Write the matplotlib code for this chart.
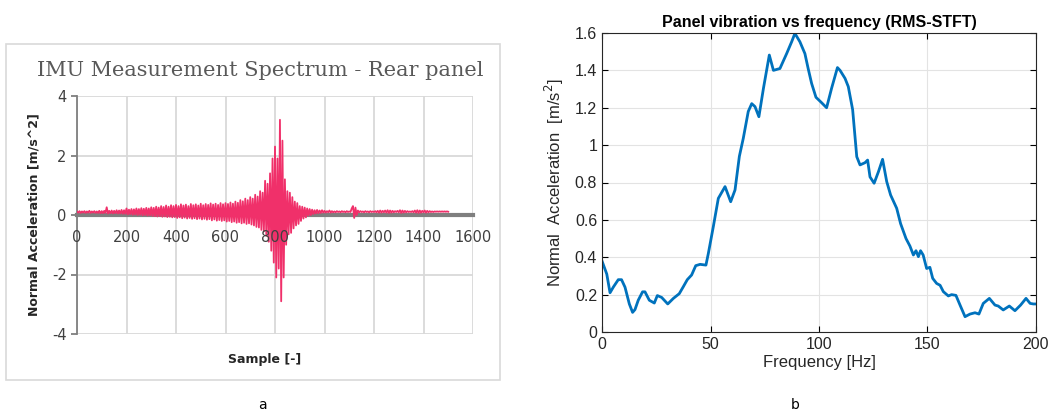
import matplotlib.pyplot as plt
from matplotlib.patches import Rectangle

plt.rcParams['axes.unicode_minus'] = False

# --- panel a: IMU time signal (alternating peak values, every 5 samples) ---
sample_step = 5
accel = [
    0.12, 0.08, 0.13, 0.07, 0.12, 0.08, 0.13, 0.07, 0.12, 0.08, 0.14, 0.07, 0.12, 0.08, 0.13, 0.07, 0.12, 0.07, 0.14, 0.06,
    0.13, 0.06, 0.14, 0.07, 0.26, 0.05, 0.14, 0.06, 0.15, 0.05, 0.14, 0.06, 0.16, 0.05, 0.15, 0.05, 0.17, 0.04, 0.16, 0.04,
    0.22, 0.02, 0.18, 0.03, 0.20, 0.01, 0.19, 0.02, 0.22, 0.00, 0.20, 0.01, 0.23, -0.01, 0.21, 0.00, 0.24, -0.02, 0.22, -0.01,
    0.26, -0.03, 0.24, -0.04, 0.28, -0.05, 0.25, -0.04, 0.30, -0.06, 0.27, -0.05, 0.32, -0.07, 0.28, -0.06, 0.33, -0.08, 0.30, -0.07,
    0.34, -0.10, 0.30, -0.08, 0.36, -0.11, 0.32, -0.09, 0.35, -0.12, 0.30, -0.10, 0.37, -0.13, 0.33, -0.11, 0.36, -0.14, 0.32, -0.12,
    0.38, -0.15, 0.33, -0.13, 0.37, -0.16, 0.34, -0.14, 0.39, -0.18, 0.35, -0.15, 0.38, -0.19, 0.34, -0.17, 0.40, -0.20, 0.36, -0.18,
    0.40, -0.22, 0.37, -0.20, 0.42, -0.24, 0.38, -0.22, 0.45, -0.26, 0.41, -0.24, 0.50, -0.28, 0.46, -0.26, 0.55, -0.30, 0.50, -0.28,
    0.60, -0.32, 0.55, -0.35, 0.68, -0.40, 0.62, -0.42, 0.80, -0.50, 0.75, -0.55, 1.15, -0.70, 1.05, -0.90, 1.40, -1.20, 1.90, -1.60,
    2.30, -2.10, 1.90, -1.80, 3.20, -2.90, 2.50, -2.10, 1.20, -1.00, 0.80, -0.65, 0.75, -0.60, 0.60, -0.45, 0.45, -0.35, 0.40, -0.30,
    0.30, -0.20, 0.28, -0.12, 0.25, -0.08, 0.22, -0.02, 0.20, 0.00, 0.18, 0.03, 0.16, 0.05, 0.17, 0.06, 0.15, 0.07, 0.16, 0.08,
    0.14, 0.08, 0.13, 0.09, 0.15, 0.08, 0.13, 0.09, 0.12, 0.09, 0.13, 0.10, 0.12, 0.09, 0.13, 0.10, 0.12, 0.09, 0.13, 0.10,
    0.12, 0.10, 0.22, 0.30, -0.10, 0.25, 0.00, 0.15, 0.09, 0.13, 0.10, 0.12, 0.09, 0.13, 0.10, 0.12, 0.09, 0.13, 0.10, 0.12,
    0.10, 0.13, 0.09, 0.14, 0.08, 0.15, 0.08, 0.14, 0.09, 0.15, 0.08, 0.16, 0.07, 0.15, 0.08, 0.14, 0.09, 0.13, 0.10, 0.14,
    0.09, 0.16, 0.07, 0.15, 0.08, 0.14, 0.09, 0.13, 0.10, 0.12, 0.10, 0.13, 0.09, 0.15, 0.08, 0.16, 0.07, 0.15, 0.08, 0.14,
    0.09, 0.15, 0.08, 0.14, 0.09, 0.13, 0.10, 0.12, 0.10, 0.12, 0.11, 0.12, 0.11, 0.12, 0.11, 0.12, 0.11, 0.12, 0.11, 0.12,
    0.11,
]
samples = [i * sample_step for i in range(len(accel))]
sample_ticks = [0, 200, 400, 600, 800, 1000, 1200, 1400, 1600]

# --- panel b: RMS-STFT spectrum ---
freq = [0, 2.2, 3.7, 5.2, 7.5, 9, 10.6, 12.6, 14.1, 15.2, 16.7, 18.7, 19.8, 21.8, 24.1, 25.5, 27.5, 30.3,
        32.9, 35.6, 37.5, 39.3, 41.3, 43.2, 45.2, 47.9, 49, 51.3, 53.6, 56.7, 59.3, 61.3, 63.3, 65.1,
        67.4, 69, 70.5, 72.3, 74.4, 77.1, 79, 82, 85.1, 87.4, 88.9, 91.2, 93.5, 95, 96.6, 98.6, 101.2,
        103.5, 105.8, 108.5, 109.7, 112, 113.5, 115.5, 117.4, 118.9, 121.2, 122.4, 123.5, 125.4, 127.4,
        129.3, 131.2, 133, 135.8, 137.6, 140.1, 141.9, 143.5, 144.7, 145.8, 146.8, 148, 149.6, 151.1,
        152.4, 154.2, 155.8, 157.3, 159.6, 161.1, 163.1, 165, 167.3, 169.6, 171.9, 173.7, 175.7, 178.5,
        181.1, 182.6, 184.9, 187.7, 190.3, 192.9, 195.4, 197.3, 198.8, 200]
rms = [0.38, 0.31, 0.21, 0.24, 0.28, 0.28, 0.24, 0.15, 0.105, 0.12, 0.17, 0.215, 0.215, 0.17, 0.155, 0.195, 0.185, 0.15,
       0.18, 0.205, 0.243, 0.28, 0.305, 0.355, 0.362, 0.358, 0.42, 0.564, 0.715, 0.778, 0.697, 0.76, 0.94, 1.036,
       1.18, 1.222, 1.206, 1.152, 1.304, 1.482, 1.40, 1.41, 1.49, 1.553, 1.598, 1.553, 1.49, 1.41, 1.33, 1.256, 1.227,
       1.20, 1.304, 1.415, 1.40, 1.357, 1.313, 1.19, 0.938, 0.894, 0.906, 0.92, 0.83, 0.796, 0.858,
       0.924, 0.805, 0.733, 0.662, 0.58, 0.50, 0.46, 0.412, 0.435, 0.403, 0.435, 0.412, 0.34, 0.346,
       0.287, 0.26, 0.25, 0.216, 0.193, 0.20, 0.196, 0.144, 0.082, 0.096, 0.103, 0.096, 0.153, 0.18,
       0.144, 0.139, 0.118, 0.139, 0.114, 0.144, 0.18, 0.153, 0.15, 0.15]

fig = plt.figure(figsize=(10.52, 4.17), dpi=100)

# ---------------- panel a (Excel style) ----------------
fig.patches.append(Rectangle((6 / 1052, 1 - 380 / 417), 494 / 1052, 336 / 417,
                             transform=fig.transFigure, fill=False, edgecolor='#d9d9d9', lw=1.2))
ax1 = fig.add_axes([77 / 1052, 1 - 334 / 417, 396 / 1052, 238 / 417])
ax1.plot(samples, accel, color='#f0306a', lw=1.3, zorder=3)
ax1.set_xlim(0, 1600)
ax1.set_ylim(-4, 4)
ax1.set_xticks(sample_ticks)
ax1.set_xticklabels([])
ax1.set_yticks([-4, -2, 0, 2, 4])
ax1.grid(True, color='#d9d9d9', lw=1.3)
ax1.set_axisbelow(True)
ax1.spines['top'].set_visible(False)
ax1.spines['right'].set_visible(False)
ax1.spines['bottom'].set_position(('data', 0))
ax1.spines['bottom'].set_color('#7f7f7f')
ax1.spines['bottom'].set_linewidth(3)
ax1.spines['bottom'].set_zorder(2)
ax1.spines['left'].set_color('#7f7f7f')
ax1.spines['left'].set_linewidth(1.3)
ax1.tick_params(axis='x', length=0)
ax1.tick_params(axis='y', length=4, width=1.3, color='#7f7f7f', labelsize=10.5, labelcolor='#404040')
# x labels sit next to the zero axis, drawn over the signal
for t in sample_ticks:
    ax1.annotate(str(t), (t, 0), xytext=(0, -16), textcoords='offset points', ha='center', va='center',
                 fontsize=10.5, color='#404040', zorder=5, annotation_clip=False)
ax1.set_ylabel('Normal Acceleration [m/s^2]', fontsize=9, fontweight='bold', color='#262626', labelpad=8)
fig.text(265 / 1052, 1 - 360 / 417, 'Sample [-]', ha='center', va='center',
         fontsize=9, fontweight='bold', color='#262626')
fig.text(260 / 1052, 1 - 70 / 417, 'IMU Measurement Spectrum - Rear panel', ha='center', va='center',
         fontsize=15, family='DejaVu Serif', color='#595959')

# ---------------- panel b (MATLAB style) ----------------
ax2 = fig.add_axes([602 / 1052, 1 - 332 / 417, 434 / 1052, 299 / 417])
ax2.plot(freq, rms, color='#0072BD', lw=2)
ax2.set_xlim(0, 200)
ax2.set_ylim(0, 1.6)
ax2.set_xticks([0, 50, 100, 150, 200])
ax2.set_yticks([0, 0.2, 0.4, 0.6, 0.8, 1, 1.2, 1.4, 1.6])
ax2.set_yticklabels(['0', '0.2', '0.4', '0.6', '0.8', '1', '1.2', '1.4', '1.6'])
ax2.grid(True, color='#e3e3e3', lw=0.8)
ax2.set_axisbelow(True)
for s in ax2.spines.values():
    s.set_color('#262626')
    s.set_linewidth(0.8)
ax2.tick_params(direction='in', top=True, right=True, length=4, width=0.8,
                labelsize=11.5, labelcolor='#262626')
for lab in ax2.get_xticklabels() + ax2.get_yticklabels():
    lab.set_family('Liberation Sans')
ax2.set_title('Panel vibration vs frequency (RMS-STFT)', fontsize=11.5, fontweight='bold',
              family='Liberation Sans', color='#000000', pad=4)
ax2.set_xlabel('Frequency [Hz]', fontsize=12, family='Liberation Sans', color='#262626', labelpad=2)
ax2.set_ylabel('Normal  Acceleration  [m/s$^2$]', fontsize=12, family='Liberation Sans',
               color='#262626', labelpad=6)

# sub-figure letters
fig.text(262 / 1052, 1 - 405 / 417, 'a', ha='center', va='center', fontsize=10, color='#000000')
fig.text(795 / 1052, 1 - 405 / 417, 'b', ha='center', va='center', fontsize=10, color='#000000')

fig.savefig('out.png', dpi=100)
